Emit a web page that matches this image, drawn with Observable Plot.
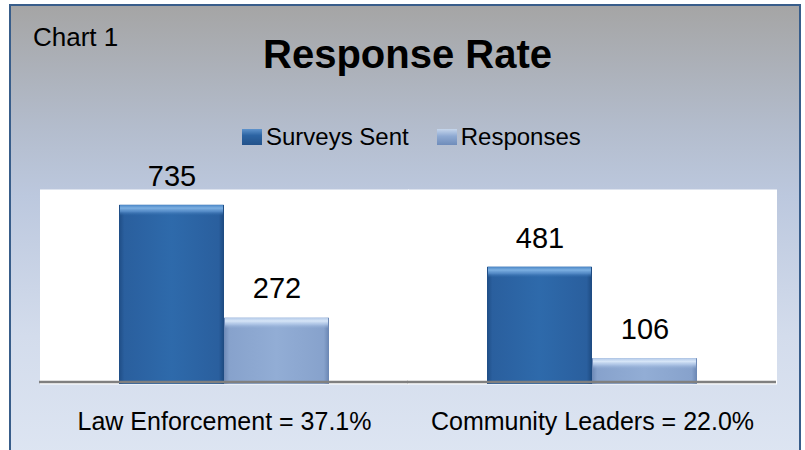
<!DOCTYPE html>
<html>
<head>
<meta charset="utf-8">
<script src="https://cdn.jsdelivr.net/npm/d3@7"></script>
<script src="https://cdn.jsdelivr.net/npm/@observablehq/plot@0.6"></script>
<style>
  body { margin: 0; width: 805px; height: 450px; overflow: hidden; background: #fff; position: relative;
         font-family: "Liberation Sans", Arial, sans-serif; color: #000; }
  #panel { position: absolute; left: 9px; top: 4px; width: 792px; height: 470px;
           border: 2px solid #385d8a; border-bottom: none; box-sizing: border-box;
           background: linear-gradient(to bottom, #a5a5a5 0px, #b3bccc 120px, #bcc8de 190px, #d3dcec 330px, #dde5f2 450px); }
  .t { position: absolute; line-height: 1; white-space: nowrap; }
  #chartno { left: 33px; top: 24px; font-size: 26px; }
  #title { left: 0; width: 815px; text-align: center; top: 34px; font-size: 40px; font-weight: bold; }
  #legend { position: absolute; left: 242px; top: 125px; display: flex; align-items: center; font-size: 24px; line-height: 1; }
  .sw { width: 20px; height: 16px; margin-right: 4px; display: inline-block; }
  #chart { position: absolute; left: 0; top: 140px; }
</style>
</head>
<body>
<div id="panel"></div>
<div class="t" id="chartno">Chart 1</div>
<div class="t" id="title">Response Rate</div>
<div id="legend"></div>
<div id="chart"></div>
<script>
// ---- data ----
const categories = ["Law Enforcement", "Community Leaders"];
const categoryLabels = ["Law Enforcement = 37.1%", "Community Leaders = 22.0%"];
const series = ["Surveys Sent", "Responses"];
const surveysSent = [735, 481];
const responses = [272, 106];
const yDomain = [0, 800];

const seriesFill = ["url(#gSent)", "url(#gResp)"];
const seriesBevel = ["url(#bSent)", "url(#bResp)"];
const swatchCss = [
  "linear-gradient(to bottom, #5e93cc, #2c64a3 40%, #23528a)",
  "linear-gradient(to bottom, #c6d6ec, #8ea9d2 45%, #6f8cba)"
];

const data = categories.flatMap((c, i) => [
  {category: c, series: series[0], value: surveysSent[i]},
  {category: c, series: series[1], value: responses[i]}
]);

// legend
const legend = document.getElementById("legend");
series.forEach((s, i) => {
  const item = document.createElement("span");
  item.style.display = "flex";
  item.style.alignItems = "center";
  item.style.marginRight = i === 0 ? "28px" : "0";
  const sw = document.createElement("span");
  sw.className = "sw";
  sw.style.background = swatchCss[i];
  const tx = document.createElement("span");
  tx.textContent = s;
  item.appendChild(sw); item.appendChild(tx);
  legend.appendChild(item);
});

const plot = Plot.plot({
  width: 805,
  height: 310,
  marginLeft: 40,
  marginRight: 29,
  marginTop: 49,
  marginBottom: 66,
  style: {background: "transparent", overflow: "visible", fontFamily: "'Liberation Sans', Arial, sans-serif", color: "#000"},
  fx: {domain: categories, padding: 0, label: null, axis: null},
  x: {domain: series, paddingInner: 0, paddingOuter: 0.736, axis: null},
  y: {domain: yDomain, axis: null},
  color: {domain: series, range: seriesFill},
  marks: [
    Plot.frame({fill: "white", stroke: null, insetLeft: -0.5, insetRight: -0.5}),
    Plot.barY(data, {fx: "category", x: "series", y: "value", fill: "series"}),
    Plot.barY(data, {fx: "category", x: "series", y1: "value", y2: "value", insetBottom: -11,
      insetLeft: 1, insetRight: 1, fill: d => seriesBevel[series.indexOf(d.series)]}),
    Plot.ruleY([0], {stroke: "#808080", strokeWidth: 2.5, dy: -2.5, insetLeft: -1}),
    Plot.text(data, {fx: "category", x: "series", y: "value", text: d => String(d.value),
      dy: -29, fontSize: 29, fill: "#000"}),
    Plot.axisFx({anchor: "bottom", tickSize: 0, tickPadding: 28, fontSize: 25, label: null,
      tickFormat: d => categoryLabels[categories.indexOf(d)], fill: "#000"})
  ]
});

const defs = `
<defs>
  <linearGradient id="gSent" x1="0" y1="0" x2="1" y2="0">
    <stop offset="0" stop-color="#1f4d85"/>
    <stop offset="0.05" stop-color="#2a5f9e"/>
    <stop offset="0.5" stop-color="#2e6aab"/>
    <stop offset="0.95" stop-color="#2a5f9e"/>
    <stop offset="1" stop-color="#1d4a80"/>
  </linearGradient>
  <linearGradient id="gResp" x1="0" y1="0" x2="1" y2="0">
    <stop offset="0" stop-color="#6d89b6"/>
    <stop offset="0.05" stop-color="#87a2cc"/>
    <stop offset="0.5" stop-color="#92add5"/>
    <stop offset="0.95" stop-color="#87a2cc"/>
    <stop offset="1" stop-color="#6a86b3"/>
  </linearGradient>
  <linearGradient id="bSent" x1="0" y1="0" x2="0" y2="1">
    <stop offset="0" stop-color="#4a86c6"/>
    <stop offset="0.3" stop-color="#7db0e2"/>
    <stop offset="0.6" stop-color="#5f95d0" stop-opacity="0.8"/>
    <stop offset="1" stop-color="#2e6aab" stop-opacity="0"/>
  </linearGradient>
  <linearGradient id="bResp" x1="0" y1="0" x2="0" y2="1">
    <stop offset="0" stop-color="#b3c9e8"/>
    <stop offset="0.3" stop-color="#d6e5f7"/>
    <stop offset="0.6" stop-color="#b5cbea" stop-opacity="0.8"/>
    <stop offset="1" stop-color="#92add5" stop-opacity="0"/>
  </linearGradient>
</defs>`;
plot.insertAdjacentHTML("afterbegin", defs);
document.getElementById("chart").appendChild(plot);
</script>
</body>
</html>
